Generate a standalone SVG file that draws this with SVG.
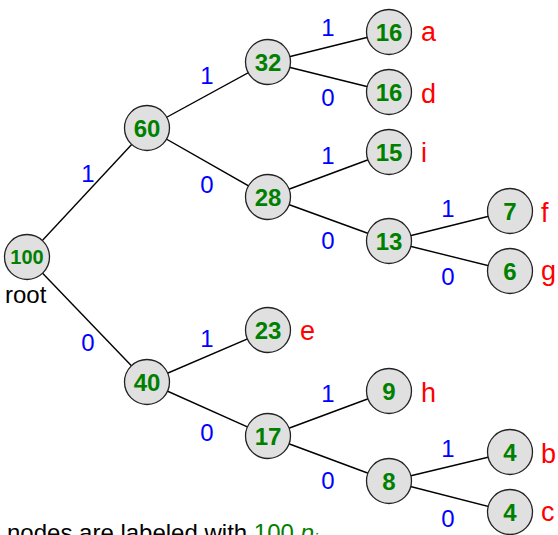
<svg xmlns="http://www.w3.org/2000/svg" width="558" height="535" viewBox="0 0 558 535">
<style>
.n circle{fill:#e0e0e0;stroke:#222;stroke-width:1.3}
.n text{font-family:"Liberation Sans",Arial,sans-serif;font-weight:bold;font-size:24px;fill:#008000;text-anchor:middle}
.e line{stroke:#000;stroke-width:1.4}
.el{font-family:"Liberation Sans",Arial,sans-serif;font-size:24px;fill:#0000ff;text-anchor:middle}
.lf{font-family:"Liberation Sans",Arial,sans-serif;font-size:27px;fill:#ff0000}
.t{font-family:"Liberation Sans",Arial,sans-serif;font-size:24px;fill:#000}
</style>
<g id="connectors" class="e">
<line x1="27" y1="257" x2="147" y2="128"/>
<line x1="27" y1="257" x2="147" y2="382"/>
<line x1="147" y1="128" x2="268" y2="62"/>
<line x1="147" y1="128" x2="268" y2="197"/>
<line x1="268" y1="62" x2="389" y2="32"/>
<line x1="268" y1="62" x2="389" y2="92"/>
<line x1="268" y1="197" x2="389" y2="152"/>
<line x1="268" y1="197" x2="389" y2="241"/>
<line x1="389" y1="241" x2="510" y2="211"/>
<line x1="389" y1="241" x2="510" y2="271"/>
<line x1="147" y1="382" x2="268" y2="330"/>
<line x1="147" y1="382" x2="268" y2="436"/>
<line x1="268" y1="436" x2="389" y2="391"/>
<line x1="268" y1="436" x2="389" y2="481"/>
<line x1="389" y1="481" x2="510" y2="452"/>
<line x1="389" y1="481" x2="510" y2="512"/>
</g>
<g id="edge-labels">
<text class="el" x="88" y="182">1</text>
<text class="el" x="88" y="351">0</text>
<text class="el" x="207" y="84">1</text>
<text class="el" x="207" y="193">0</text>
<text class="el" x="328" y="36">1</text>
<text class="el" x="328" y="106">0</text>
<text class="el" x="328" y="164">1</text>
<text class="el" x="328" y="249">0</text>
<text class="el" x="448" y="217">1</text>
<text class="el" x="448" y="285">0</text>
<text class="el" x="207" y="347">1</text>
<text class="el" x="207" y="441">0</text>
<text class="el" x="328" y="402">1</text>
<text class="el" x="328" y="489">0</text>
<text class="el" x="448" y="457">1</text>
<text class="el" x="448" y="527">0</text>
</g>
<g id="n100" class="n"><circle cx="27" cy="257" r="22.5"/><text x="27" y="264" style="font-size:20px">100</text></g>
<g id="n60" class="n"><circle cx="147" cy="128" r="22.5"/><text x="147" y="137">60</text></g>
<g id="n40" class="n"><circle cx="147" cy="382" r="22.5"/><text x="147" y="391">40</text></g>
<g id="n32" class="n"><circle cx="268" cy="62" r="22.5"/><text x="268" y="71">32</text></g>
<g id="n28" class="n"><circle cx="268" cy="197" r="22.5"/><text x="268" y="206">28</text></g>
<g id="n23" class="n"><circle cx="268" cy="330" r="22.5"/><text x="268" y="339">23</text></g>
<g id="n17" class="n"><circle cx="268" cy="436" r="22.5"/><text x="268" y="445">17</text></g>
<g id="n16a" class="n"><circle cx="389" cy="32" r="22.5"/><text x="389" y="41">16</text></g>
<g id="n16d" class="n"><circle cx="389" cy="92" r="22.5"/><text x="389" y="101">16</text></g>
<g id="n15" class="n"><circle cx="389" cy="152" r="22.5"/><text x="389" y="161">15</text></g>
<g id="n13" class="n"><circle cx="389" cy="241" r="22.5"/><text x="389" y="250">13</text></g>
<g id="n9" class="n"><circle cx="389" cy="391" r="22.5"/><text x="389" y="400">9</text></g>
<g id="n8" class="n"><circle cx="389" cy="481" r="22.5"/><text x="389" y="490">8</text></g>
<g id="n7" class="n"><circle cx="510" cy="211" r="22.5"/><text x="510" y="220">7</text></g>
<g id="n6" class="n"><circle cx="510" cy="271" r="22.5"/><text x="510" y="280">6</text></g>
<g id="n4b" class="n"><circle cx="510" cy="452" r="22.5"/><text x="510" y="461">4</text></g>
<g id="n4c" class="n"><circle cx="510" cy="512" r="22.5"/><text x="510" y="521">4</text></g>
<g id="leaf-labels">
<text class="lf" x="421" y="41">a</text>
<text class="lf" x="421" y="103">d</text>
<text class="lf" x="421" y="162">i</text>
<text class="lf" x="541" y="222">f</text>
<text class="lf" x="541" y="280">g</text>
<text class="lf" x="300" y="340">e</text>
<text class="lf" x="421" y="402">h</text>
<text class="lf" x="541" y="463">b</text>
<text class="lf" x="541" y="521">c</text>
</g>
<text class="t" x="5" y="303">root</text>
<text class="t" x="7" y="541">nodes are labeled with <tspan fill="#008000">100</tspan> <tspan fill="#008000" font-style="italic">p</tspan><tspan fill="#008000" font-style="italic" font-size="16" dy="4">i</tspan></text>
</svg>
